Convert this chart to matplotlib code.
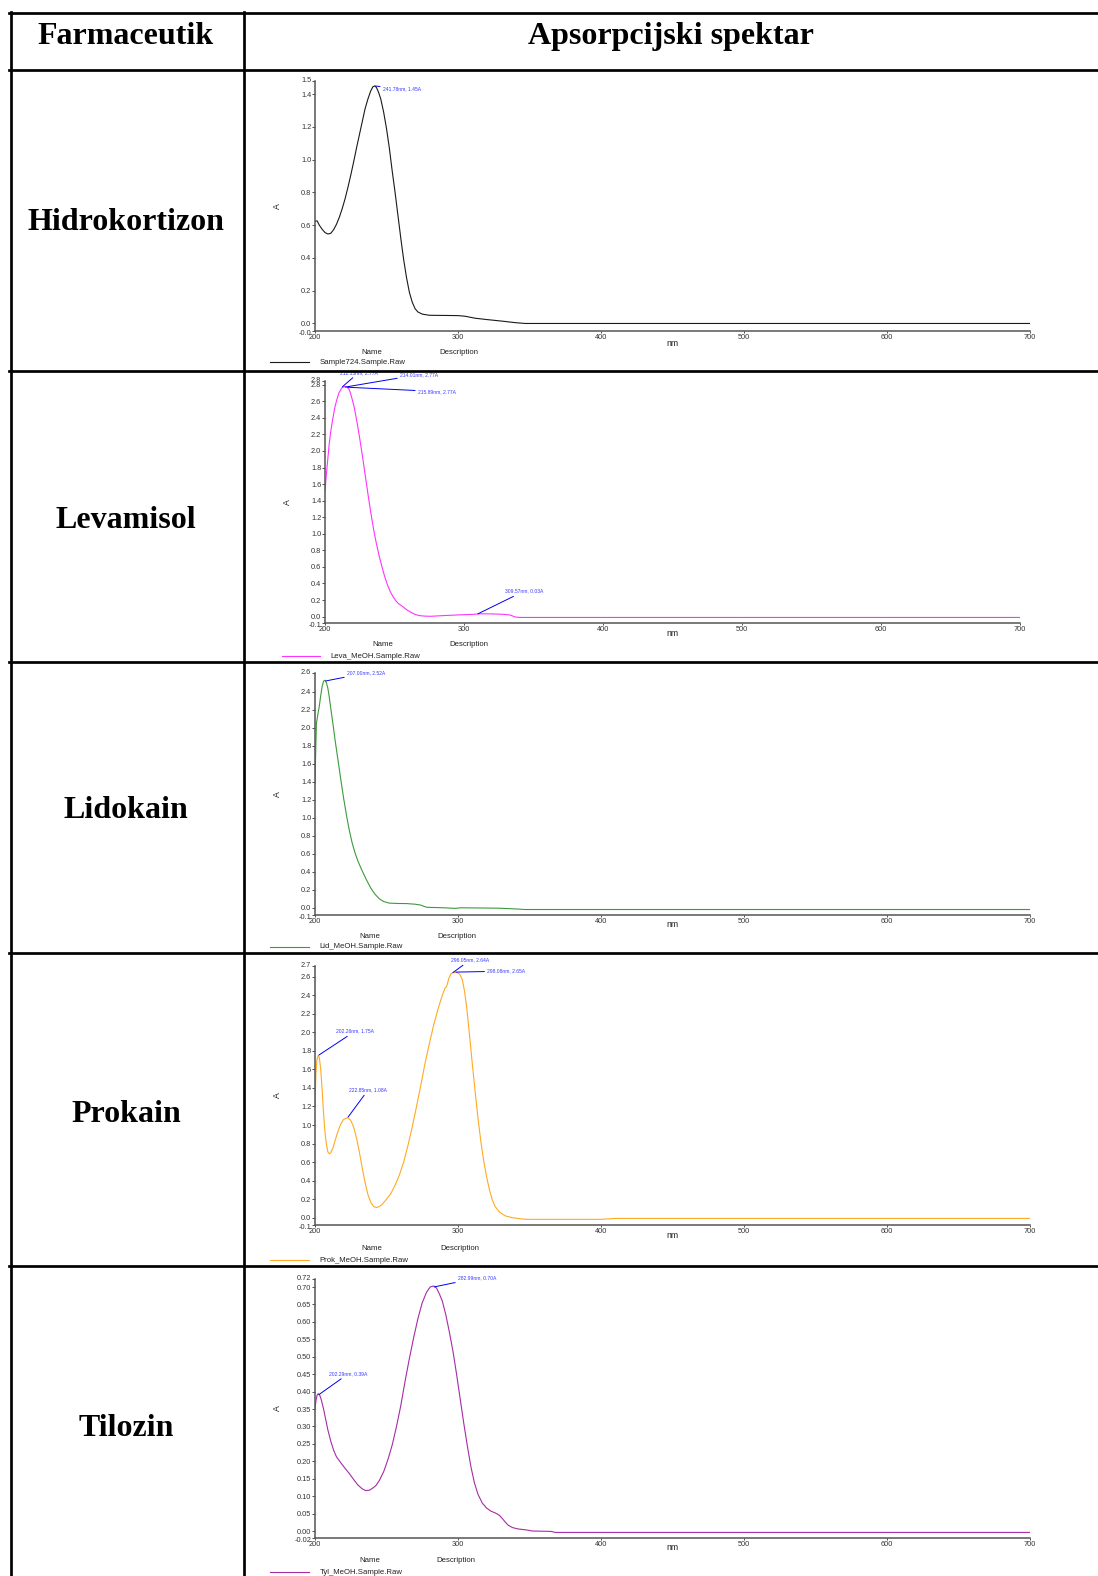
import numpy as np
import matplotlib
matplotlib.use("Agg")
import matplotlib.pyplot as plt
import matplotlib.transforms as mtransforms
from matplotlib.lines import Line2D

W, H = 1098, 1576

# ---- table text ----
header_left = "Farmaceutik"
header_right = "Apsorpcijski spektar"
drugs = ["Hidrokortizon", "Levamisol", "Lidokain", "Prokain", "Tilozin"]
sample_names = ["Sample724.Sample.Raw", "Leva_MeOH.Sample.Raw", "Lid_MeOH.Sample.Raw",
                "Prok_MeOH.Sample.Raw", "Tyl_MeOH.Sample.Raw"]
line_colors = ["#1a1a1a", "#ff33ff", "#3c9a3c", "#ffaa22", "#a62ca6"]

# ---- spectra (nm, A) ----
hidro_nm = [200, 201.5, 203, 205, 207, 209, 211, 213, 215, 217, 219, 221, 223, 225, 227, 229, 231,
            233, 235, 237, 239, 240.5, 241.8, 243, 244.5, 246, 248, 250, 252, 254, 256, 258, 260,
            262, 264, 266, 268, 270, 272, 275, 280, 290, 300, 305, 312, 320, 330, 340, 347, 700]
hidro_A = [0.624, 0.626, 0.60, 0.575, 0.555, 0.546, 0.55, 0.572, 0.605, 0.648, 0.70, 0.76, 0.83,
           0.905, 0.985, 1.07, 1.15, 1.23, 1.31, 1.37, 1.42, 1.445, 1.45, 1.44, 1.41, 1.37, 1.29,
           1.19, 1.07, 0.93, 0.80, 0.66, 0.52, 0.39, 0.28, 0.19, 0.13, 0.09, 0.07, 0.057, 0.05,
           0.049, 0.048, 0.044, 0.032, 0.024, 0.015, 0.005, 0.0, 0.0]

leva_nm = [200, 201, 202, 203, 204, 205.5, 207, 208.5, 210, 212, 214, 216, 217.5, 219, 221, 223,
           225, 227, 229, 231, 233, 235, 237, 239, 241, 243, 245, 247, 249, 251, 253, 256, 259,
           262, 265, 268, 272, 276, 285, 295, 305, 312, 320, 328, 333, 337, 340, 700]
leva_A = [1.52, 1.72, 1.90, 2.08, 2.22, 2.38, 2.52, 2.62, 2.70, 2.76, 2.78, 2.77, 2.74, 2.66, 2.53,
          2.35, 2.15, 1.93, 1.70, 1.47, 1.25, 1.05, 0.88, 0.73, 0.60, 0.48, 0.38, 0.30, 0.24, 0.19,
          0.155, 0.12, 0.08, 0.05, 0.025, 0.012, 0.006, 0.004, 0.012, 0.02, 0.026, 0.034, 0.033,
          0.028, 0.02, -0.005, -0.01, -0.01]

lido_nm = [200, 200.5, 201, 202, 203, 204, 205, 206, 207, 208, 209, 210, 211, 212.5, 214, 216, 218,
           220, 222, 224, 226, 228, 230, 233, 236, 239, 242, 245, 248, 252, 258, 264, 270, 274,
           278, 290, 298, 302, 328, 340, 347, 700]
lido_A = [1.38, 1.75, 2.05, 2.15, 2.24, 2.36, 2.46, 2.52, 2.53, 2.50, 2.44, 2.34, 2.22, 2.05, 1.87,
          1.65, 1.43, 1.22, 1.03, 0.86, 0.72, 0.61, 0.52, 0.41, 0.31, 0.22, 0.15, 0.10, 0.07,
          0.052, 0.048, 0.047, 0.04, 0.03, 0.006, 0.0, -0.006, 0.0, -0.004, -0.012, -0.019, -0.019]

prok_nm = [200, 200.6, 201.3, 202.2, 203, 204, 205, 206, 207, 208, 209, 210, 211, 212.5, 214, 216,
           218, 220, 222.8, 225, 227, 229, 231, 233, 235, 237, 239, 241, 243, 245, 247, 250, 253,
           256, 259, 262, 265, 268, 271, 274, 277, 280, 283, 286, 289, 291, 292, 293.5, 295, 296,
           298, 300, 301.5, 303, 304.5, 306, 308, 310, 312, 314, 316, 318, 320, 322, 324, 326,
           329, 333, 338, 345, 350, 400, 410, 700]
prok_A = [1.2, 1.55, 1.70, 1.75, 1.73, 1.60, 1.38, 1.12, 0.92, 0.79, 0.71, 0.69, 0.70, 0.75, 0.83,
          0.93, 1.01, 1.06, 1.08, 1.05, 0.98, 0.86, 0.71, 0.54, 0.38, 0.25, 0.165, 0.12, 0.11,
          0.12, 0.145, 0.20, 0.26, 0.35, 0.46, 0.60, 0.78, 0.98, 1.20, 1.43, 1.67, 1.88, 2.08,
          2.25, 2.40, 2.48, 2.49, 2.58, 2.63, 2.64, 2.65, 2.64, 2.62, 2.57, 2.45, 2.28, 1.98,
          1.66, 1.36, 1.07, 0.82, 0.61, 0.44, 0.30, 0.19, 0.12, 0.06, 0.02, 0.0, -0.015, -0.018,
          -0.018, -0.008, -0.008]

tyl_nm = [200, 200.7, 201.5, 202.3, 203.3, 204.5, 206, 207.5, 209, 211, 213, 215, 218, 221, 224,
          227, 230, 233, 235.5, 238, 240, 242.5, 245, 248, 251, 254, 257, 260, 263, 266, 269, 272,
          275, 278, 280.5, 283, 285, 287, 289, 291.5, 294, 296.5, 299, 301.5, 304, 306.5, 309,
          311.5, 314, 317, 320, 323, 326, 329, 331, 333, 335, 338, 342, 348, 352, 365, 368, 700]
tyl_A = [0.351, 0.375, 0.39, 0.394, 0.39, 0.375, 0.35, 0.32, 0.29, 0.258, 0.232, 0.213, 0.196,
         0.18, 0.165, 0.148, 0.132, 0.121, 0.116, 0.117, 0.122, 0.13, 0.145, 0.17, 0.205, 0.247,
         0.30, 0.36, 0.43, 0.495, 0.555, 0.61, 0.655, 0.685, 0.70, 0.703, 0.697, 0.68, 0.66, 0.62,
         0.57, 0.515, 0.45, 0.38, 0.31, 0.245, 0.185, 0.138, 0.105, 0.08, 0.066, 0.057, 0.052,
         0.045, 0.036, 0.026, 0.017, 0.01, 0.006, 0.003, 0.0, -0.001, -0.004, -0.004]

spectra_nm = [hidro_nm, leva_nm, lido_nm, prok_nm, tyl_nm]
spectra_A = [hidro_A, leva_A, lido_A, prok_A, tyl_A]

# peak labels: (nm, A, text)
peaks = [
    [(241.78, 1.45, "241.78nm, 1.45A")],
    [(212.15, 2.77, "212.15nm, 2.77A"), (214.01, 2.77, "214.01nm, 2.77A"),
     (215.89, 2.77, "215.89nm, 2.77A"), (309.57, 0.03, "309.57nm, 0.03A")],
    [(207.00, 2.52, "207.00nm, 2.52A")],
    [(202.26, 1.75, "202.26nm, 1.75A"), (222.85, 1.08, "222.85nm, 1.08A"),
     (296.05, 2.64, "296.05nm, 2.64A"), (298.08, 2.65, "298.08nm, 2.65A")],
    [(202.29, 0.39, "202.29nm, 0.39A"), (282.99, 0.70, "282.99nm, 0.70A")],
]
# text offsets in points (style)
peak_offsets = [
    [(5.8, -2.2)],
    [(-1.4, 10.6), (40, 9.1), (51, -3.1), (20, 16.6)],
    [(15.8, 5.8)],
    [(13, 17.6), (1, 19.9), (-1, 9.4), (23, 0.7)],
    [(8, 15.5), (17.5, 6.5)],
]

# y axis: limits, regular ticks, labels at the limits
y_limits = [(-0.046, 1.48), (-0.077, 2.845), (-0.08, 2.61), (-0.079, 2.716), (-0.02, 0.723)]
y_steps = [(0.0, 1.4, 0.2), (0.0, 2.8, 0.2), (0.0, 2.4, 0.2), (0.0, 2.6, 0.2), (0.0, 0.70, 0.05)]
y_end_labels = [("-0.0", "1.5"), ("-0.1", "2.8"), ("-0.1", "2.6"), ("-0.1", "2.7"), ("-0.02", "0.72")]
y_decimals = [1, 1, 1, 1, 2]
x_ticks = [200, 300, 400, 500, 600, 700]

# ---- geometry in pixels ----
# (left, right, top, bottom) of each plot area
boxes = [(315, 1030, 81, 331), (325, 1020, 381, 623), (315, 1030, 673, 915),
         (315, 1030, 966, 1225), (315, 1030, 1279, 1538)]
row_centers = [223, 521, 811, 1114, 1428]
name_x = [(372, 459), (383, 469), (370, 457), (372, 460), (370, 456)]
legend_x = [(270, 309, 320), (282, 320, 330), (270, 309, 319), (270, 309, 319), (270, 309, 320)]
below = [(12, 21, 31), (11, 22, 33), (9, 22, 32), (10, 24, 35), (9, 23, 34)]

plt.rcParams['font.family'] = ['Liberation Sans', 'DejaVu Sans']

fig = plt.figure(figsize=(W / 100, H / 100), dpi=100)
fig.patch.set_facecolor("white")


def fx(px):
    return px / W


def fy(py):
    return 1 - py / H


# table grid
tlw = 1.95
hlines = [13.3, 69.5, 371, 662, 953, 1265.5]
for yy in hlines:
    fig.add_artist(Line2D([fx(9.3), 1.0], [fy(yy), fy(yy)], color="black", lw=tlw))
for xx in [10.5, 243.5]:
    fig.add_artist(Line2D([fx(xx), fx(xx)], [fy(12.3), 0.0], color="black", lw=tlw))

serif = ['Liberation Serif', 'DejaVu Serif']
big = 23
fig.text(fx(126), fy(36.5), header_left, ha="center", va="center", fontsize=big,
         fontweight="bold", family=serif)
fig.text(fx(671), fy(36.5), header_right, ha="center", va="center", fontsize=big,
         fontweight="bold", family=serif)

axis_col = "#555555"
text_col = "#333333"

for i in range(5):
    l, r, t, b = boxes[i]
    ax = fig.add_axes([fx(l), fy(b), (r - l) / W, (b - t) / H])
    ax.plot(spectra_nm[i], spectra_A[i], color=line_colors[i], lw=0.8)
    ax.set_xlim(200, 700)
    ax.set_ylim(*y_limits[i])
    for s in ["top", "right"]:
        ax.spines[s].set_visible(False)
    for s in ["left", "bottom"]:
        ax.spines[s].set_color(axis_col)
        ax.spines[s].set_linewidth(1.1)
    ax.patch.set_alpha(0)

    y0, y1, st = y_steps[i]
    reg = list(np.arange(y0, y1 + st / 2, st))
    labs = [f"{v:.{y_decimals[i]}f}" for v in reg]
    ax.set_yticks(reg + [y_limits[i][0], y_limits[i][1]])
    ax.set_yticklabels(labs + list(y_end_labels[i]))
    ax.set_xticks(x_ticks)
    ax.set_xticklabels([str(v) for v in x_ticks])
    ax.tick_params(axis="y", length=2.2, width=0.6, pad=0.5, labelsize=5.3,
                   colors=text_col)
    ax.tick_params(axis="x", length=1.6, width=0.6, pad=0.6, labelsize=5.3,
                   colors=text_col)
    # nudge the end-of-axis labels a little apart from their neighbours
    ylabs = ax.get_yticklabels()
    up = mtransforms.ScaledTranslation(0, 1.5 / 100, fig.dpi_scale_trans)
    down = mtransforms.ScaledTranslation(0, -1.5 / 100, fig.dpi_scale_trans)
    ylabs[-1].set_transform(ylabs[-1].get_transform() + up)
    ylabs[-2].set_transform(ylabs[-2].get_transform() + down)

    for (pnm, pa, ptxt), off in zip(peaks[i], peak_offsets[i]):
        ax.annotate(ptxt, xy=(pnm, pa), xytext=off, textcoords="offset points",
                    ha="left", va="center", fontsize=3.6, color="#3a3aff",
                    arrowprops=dict(arrowstyle="-", color="#0000ee", lw=0.7,
                                    shrinkA=0, shrinkB=0.5))

    # axis titles and the footer the instrument prints
    fig.text(fx(l - 38), fy((t + b) / 2), "A", rotation=90, ha="center", va="center",
             fontsize=6.3, color="#222222")
    nm_off, name_off, leg_off = below[i]
    fig.text(fx((l + r) / 2), fy(b + nm_off), "nm", ha="center", va="center",
             fontsize=6.3, color="#222222")
    fig.text(fx(name_x[i][0]), fy(b + name_off), "Name", ha="center", va="center",
             fontsize=5.6, color="#222222")
    fig.text(fx(name_x[i][1]), fy(b + name_off), "Description", ha="center", va="center",
             fontsize=5.6, color="#222222")
    lx0, lx1, ltx = legend_x[i]
    fig.add_artist(Line2D([fx(lx0), fx(lx1)], [fy(b + leg_off), fy(b + leg_off)],
                          color=line_colors[i], lw=0.8))
    fig.text(fx(ltx), fy(b + leg_off), sample_names[i], ha="left", va="center",
             fontsize=5.6, color="#222222")

    fig.text(fx(126), fy(row_centers[i]), drugs[i], ha="center", va="center",
             fontsize=big, fontweight="bold", family=serif)

fig.savefig("out.png", dpi=100, facecolor="white")
